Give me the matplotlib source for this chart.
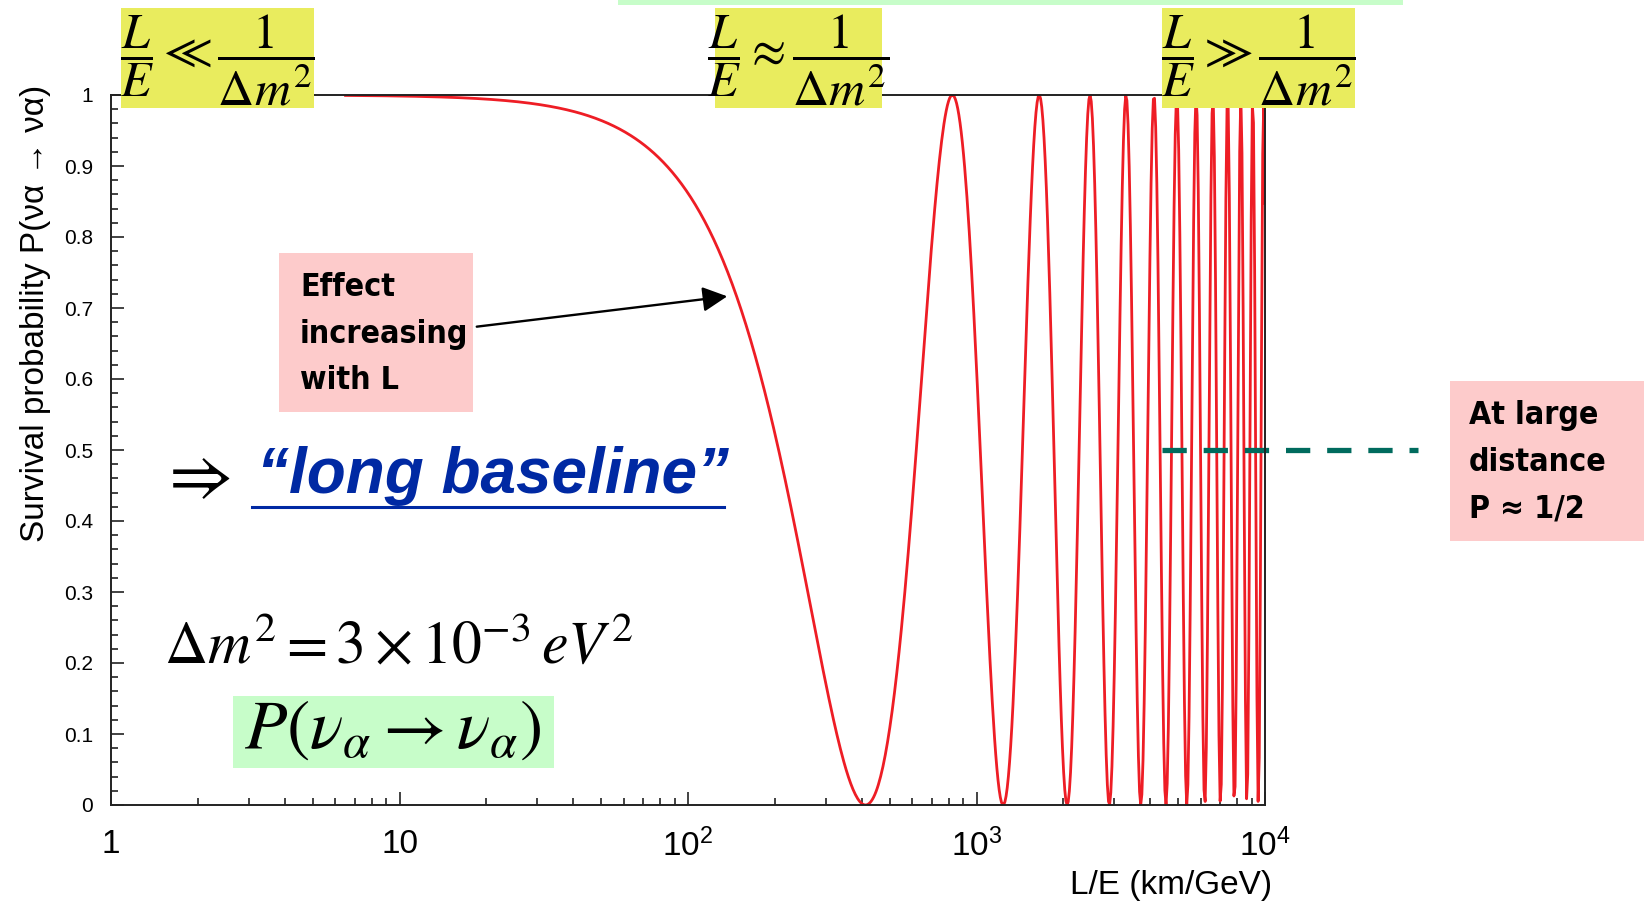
import os
import matplotlib.pyplot as plt
import numpy as np
from matplotlib import font_manager as fm
from matplotlib.patches import Rectangle, FancyArrowPatch
from matplotlib.ticker import FixedLocator, FixedFormatter, NullFormatter, LogLocator

plt.rcParams['font.family'] = ['Liberation Sans', 'DejaVu Sans']
plt.rcParams['mathtext.fontset'] = 'stix'

# values
dm2 = 3e-3            # eV^2, as printed on the chart
sin2_2theta = 1.0     # minima reach 0
le_start, le_stop = 6.5, 1e4
n_samples = 800

x_ticks = [1, 10, 100, 1000, 10000]
x_ticklabels = ['1', '10', r'$\mathdefault{10^{2}}$', r'$\mathdefault{10^{3}}$', r'$\mathdefault{10^{4}}$']
y_ticks = [0, 0.1, 0.2, 0.3, 0.4, 0.5, 0.6, 0.7, 0.8, 0.9, 1]
y_ticklabels = ['0', '0.1', '0.2', '0.3', '0.4', '0.5', '0.6', '0.7', '0.8', '0.9', '1']

W, H = 1645, 901
yellow = '#E9EC5E'
pink = '#FDCBCB'
green = '#C7FDC9'
red = '#EE1D25'
teal = '#006B5E'
blue = '#0029A3'


def narrow_font():
    # a condensed bold face for the pink notes, whichever is installed
    prefs = ['notosans-extracondensedbold', 'notosans-extracondensed-bold',
             'liberationsansnarrow-bold.', 'dejavusanscondensed-bold', 'notosans-condensedbold',
             'notosans-condensed-bold', 'robotocondensed-bold']
    files = [f.fname for f in fm.fontManager.ttflist]
    for p in prefs:
        for fn in files:
            if os.path.basename(fn).lower().replace('_', '-').startswith(p):
                return fm.FontProperties(fname=fn), True
    return fm.FontProperties(family='DejaVu Sans', weight='bold'), False


le = np.geomspace(le_start, le_stop, n_samples)
prob = 1 - sin2_2theta * np.sin(1.27 * dm2 * le) ** 2

fig = plt.figure(figsize=(W / 100, H / 100), dpi=100)
ax = fig.add_axes([111 / W, 1 - 805 / H, 1154 / W, 710 / H])
ax.plot(le, prob, color=red, lw=2.0)

ax.set_xscale('log')
ax.set_xlim(1, 1e4)
ax.set_ylim(0, 1)
ax.xaxis.set_major_locator(FixedLocator(x_ticks))
ax.xaxis.set_major_formatter(FixedFormatter(x_ticklabels))
ax.xaxis.set_minor_locator(LogLocator(base=10, subs=np.arange(2, 10)))
ax.xaxis.set_minor_formatter(NullFormatter())
ax.yaxis.set_major_locator(FixedLocator(y_ticks))
ax.yaxis.set_major_formatter(FixedFormatter(y_ticklabels))
ax.yaxis.set_minor_locator(FixedLocator(np.arange(0, 1.001, 0.02)))
ax.tick_params(which='both', direction='in', top=False, right=False, width=1.2, color='#222222')
ax.tick_params(which='major', length=9.5)
ax.tick_params(which='minor', length=4.7)
ax.tick_params(axis='x', which='major', labelsize=24, pad=17)
ax.tick_params(axis='y', which='major', labelsize=15, pad=13)
for s in ax.spines.values():
    s.set_linewidth(1.4)
    s.set_color('#222222')

ax.set_ylabel('Survival probability P(να → να)', fontsize=24, loc='top')
ax.yaxis.set_label_coords(-0.052, 1.015)
ax.set_xlabel('L/E (km/GeV)', fontsize=24, loc='right')
ax.xaxis.set_label_coords(1.006, -0.092)


def box(x0, y0, x1, y1, color):
    fig.patches.append(Rectangle((x0 / W, 1 - y1 / H), (x1 - x0) / W, (y1 - y0) / H,
                                 transform=fig.transFigure, fc=color, ec='none', zorder=2))


def ftext(x, y, s, **kw):
    fig.text(x / W, 1 - y / H, s, zorder=3, **kw)


# top strip and regime boxes
box(618, 0, 1403, 5, green)
box(121, 8, 314, 108, yellow)
box(715, 8, 882, 108, yellow)
box(1162, 8, 1355, 108, yellow)
ftext(217, 60, r'$\dfrac{L}{E}\ll\dfrac{1}{\Delta m^2}$', fontsize=36, ha='center', va='center')
ftext(798, 60, r'$\dfrac{L}{E}\approx\dfrac{1}{\Delta m^2}$', fontsize=36, ha='center', va='center')
ftext(1258, 60, r'$\dfrac{L}{E}\gg\dfrac{1}{\Delta m^2}$', fontsize=36, ha='center', va='center')

# pink notes
nfont, found = narrow_font()
nsize = 23 if found else 18
box(279, 253, 473, 412, pink)
ftext(300, 334, 'Effect\nincreasing\nwith L', fontproperties=nfont, fontsize=nsize,
      ha='left', va='center', linespacing=1.65)
box(1450, 381, 1644, 541, pink)
ftext(1469, 462, 'At large\ndistance\nP ≈ 1/2', fontproperties=nfont, fontsize=nsize,
      ha='left', va='center', linespacing=1.65)

arrow = FancyArrowPatch((474 / W, 1 - 327 / H), (730 / W, 1 - 296 / H), transform=fig.transFigure,
                        arrowstyle='-|>,head_length=0.75,head_width=0.38', mutation_scale=20,
                        lw=1.7, color='black', zorder=3)
fig.patches.append(arrow)

# asymptote P = 1/2
ax.plot([0.911, 1.133], [0.5, 0.5], transform=ax.get_yaxis_transform(), clip_on=False,
        color=teal, lw=3.8, linestyle=(0, (4.6, 3.2)), solid_capstyle='butt')

# long baseline
ftext(158, 478, r'$\Rightarrow$', fontsize=50, ha='left', va='center')
ftext(257, 493, '“long baseline”', fontsize=46, weight='bold', style='italic', color=blue,
      ha='left', va='baseline')
fig.add_artist(plt.Line2D([252 / W, 724 / W], [1 - 507 / H, 1 - 507 / H], transform=fig.transFigure,
                          color=blue, lw=2.2))

# parameters
ftext(164, 663, r'$\Delta m^2 = 3\times10^{-3}\,eV^2$', fontsize=43, ha='left', va='baseline')
box(233, 696, 554, 768, green)
ftext(393, 730, r'$P\left(\nu_{\alpha} \rightarrow \nu_{\alpha}\right)$', fontsize=50, ha='center', va='center')

fig.savefig('out.png', dpi=100)
